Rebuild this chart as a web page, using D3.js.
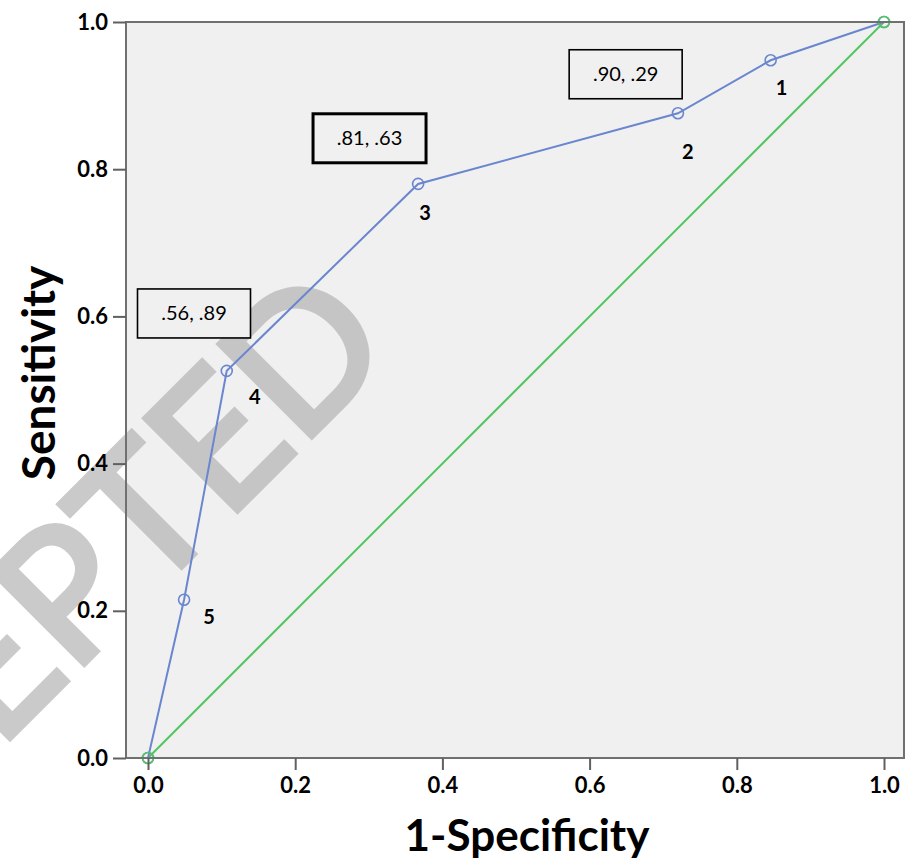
<!DOCTYPE html>
<html>
<head>
<meta charset="utf-8">
<script src="https://cdn.jsdelivr.net/npm/d3@7"></script>
<style>
  body { margin: 0; background: #fff; }
  text { font-family: Lato, "Noto Sans", sans-serif; }
</style>
</head>
<body>
<div id="chart"></div>
<script>
const width = 914,
  height = 865,
  margin = { top: 22, bottom: 107, left: 126, right: 10 },
  pad = 22;

// ROC curve points (1-specificity, sensitivity), from the reference
const fpr = [0, 0.049, 0.107, 0.367, 0.720, 0.846, 1];
const tpr = [0, 0.215, 0.526, 0.780, 0.876, 0.948, 1];
const cutLabels = ["", "5", "4", "3", "2", "1", ""];

// reference (chance) line
const refX = [0, 1];
const refY = [0, 1];

// annotation boxes
const boxText = [".90, .29", ".81, .63", ".56, .89"];
const boxX = [0.649, 0.301, 0.0625];
const boxY = [0.929, 0.842, 0.604];

const yTicks = [0, 0.2, 0.4, 0.6, 0.8, 1.0];
const xTicks = [0, 0.2, 0.4, 0.6, 0.8, 1.0];

// layout only
const labelOffsets = [[0, 0], [25, 24], [28, 33], [7, 36], [10, 46], [11, 35], [0, 0]];
const boxStroke = [1.6, 3, 1.6];

const plotRight = 904, plotBottom = 758;

let svg = d3.select("#chart")
  .append("svg")
  .attr("width", width)
  .attr("height", height);

let x = d3.scaleLinear().domain([0, 1]).range([margin.left + pad, plotRight - 20]);
let y = d3.scaleLinear().domain([0, 1]).range([plotBottom, margin.top]);

// plot background
svg.append("rect")
  .attr("x", margin.left)
  .attr("y", margin.top)
  .attr("width", plotRight - margin.left)
  .attr("height", plotBottom - margin.top)
  .attr("fill", "#f0f0f0");

// watermark
svg.append("g")
  .attr("opacity", 0.67)
  .append("text")
  .attr("transform", "translate(398,350) rotate(-45)")
  .attr("text-anchor", "end")
  .attr("font-size", 182)
  .attr("font-family", "'Liberation Sans', Arial, sans-serif")
  .attr("fill", "#b1b1b1")
  .attr("stroke", "#b1b1b1")
  .attr("stroke-width", 6)
  .attr("stroke-linejoin", "miter")
  .text("ACCEPTED");

// chance line
const refData = refX.map((d, i) => ({ x: d, y: refY[i] }));
svg.append("path")
  .datum(refData)
  .attr("fill", "none")
  .attr("stroke", "#55c463")
  .attr("stroke-width", 2)
  .attr("d", d3.line().x(d => x(d.x)).y(d => y(d.y)));

// ROC curve
const roc = fpr.map((d, i) => ({ x: d, y: tpr[i], label: cutLabels[i], off: labelOffsets[i] }));
svg.append("path")
  .datum(roc)
  .attr("fill", "none")
  .attr("stroke", "#6a86cf")
  .attr("stroke-width", 2)
  .attr("d", d3.line().x(d => x(d.x)).y(d => y(d.y)));

svg.selectAll(".dot")
  .data(roc)
  .join("circle")
  .attr("class", "dot")
  .attr("cx", d => x(d.x))
  .attr("cy", d => y(d.y))
  .attr("r", 5.5)
  .attr("fill", "none")
  .attr("stroke", "#6a86cf")
  .attr("stroke-width", 1.6);

svg.selectAll(".refdot")
  .data(refData)
  .join("circle")
  .attr("class", "refdot")
  .attr("cx", d => x(d.x))
  .attr("cy", d => y(d.y))
  .attr("r", 5.5)
  .attr("fill", "none")
  .attr("stroke", "#55c463")
  .attr("stroke-width", 1.6);

svg.selectAll(".cut")
  .data(roc.filter(d => d.label !== ""))
  .join("text")
  .attr("class", "cut")
  .attr("x", d => x(d.x) + d.off[0])
  .attr("y", d => y(d.y) + d.off[1])
  .attr("text-anchor", "middle")
  .attr("font-size", 20)
  .attr("font-weight", "bold")
  .text(d => d.label);

// annotation boxes
const boxes = boxText.map((t, i) => ({ t: t, x: boxX[i], y: boxY[i], sw: boxStroke[i] }));
const bw = 113, bh = 49;
const boxG = svg.selectAll(".box")
  .data(boxes)
  .join("g")
  .attr("class", "box")
  .attr("transform", d => "translate(" + x(d.x) + "," + y(d.y) + ")");
boxG.append("rect")
  .attr("x", -bw / 2)
  .attr("y", -bh / 2)
  .attr("width", bw)
  .attr("height", bh)
  .attr("fill", "#f0f0f0")
  .attr("stroke", "#000")
  .attr("stroke-width", d => d.sw);
boxG.append("text")
  .attr("text-anchor", "middle")
  .attr("dy", "0.35em")
  .attr("font-size", 20)
  .text(d => d.t);

// frame
svg.append("rect")
  .attr("x", margin.left)
  .attr("y", margin.top)
  .attr("width", plotRight - margin.left)
  .attr("height", plotBottom - margin.top)
  .attr("fill", "none")
  .attr("stroke", "#707070")
  .attr("stroke-width", 2);

// axes
const yAxis = svg.append("g")
  .attr("transform", "translate(" + margin.left + ",0)")
  .call(d3.axisLeft(y).tickValues(yTicks).tickFormat(d3.format(".1f")).tickSize(13).tickPadding(5));
const xAxis = svg.append("g")
  .attr("transform", "translate(0," + plotBottom + ")")
  .call(d3.axisBottom(x).tickValues(xTicks).tickFormat(d3.format(".1f")).tickSize(12).tickPadding(7));

[yAxis, xAxis].forEach(a => {
  a.select(".domain").remove();
  a.selectAll(".tick line").attr("stroke", "#606060").attr("stroke-width", 2);
  a.selectAll(".tick text")
    .attr("fill", "#000")
    .attr("font-size", 22)
    .attr("font-weight", "bold")
    .attr("font-family", "Lato, sans-serif");
});

// axis titles
svg.append("text")
  .attr("x", 527)
  .attr("y", 851)
  .attr("text-anchor", "middle")
  .attr("font-size", 44)
  .attr("font-weight", "bold")
  .text("1-Specificity");

svg.append("text")
  .attr("transform", "translate(55,373) rotate(-90)")
  .attr("text-anchor", "middle")
  .attr("font-size", 46)
  .attr("font-weight", "bold")
  .text("Sensitivity");
</script>
</body>
</html>
